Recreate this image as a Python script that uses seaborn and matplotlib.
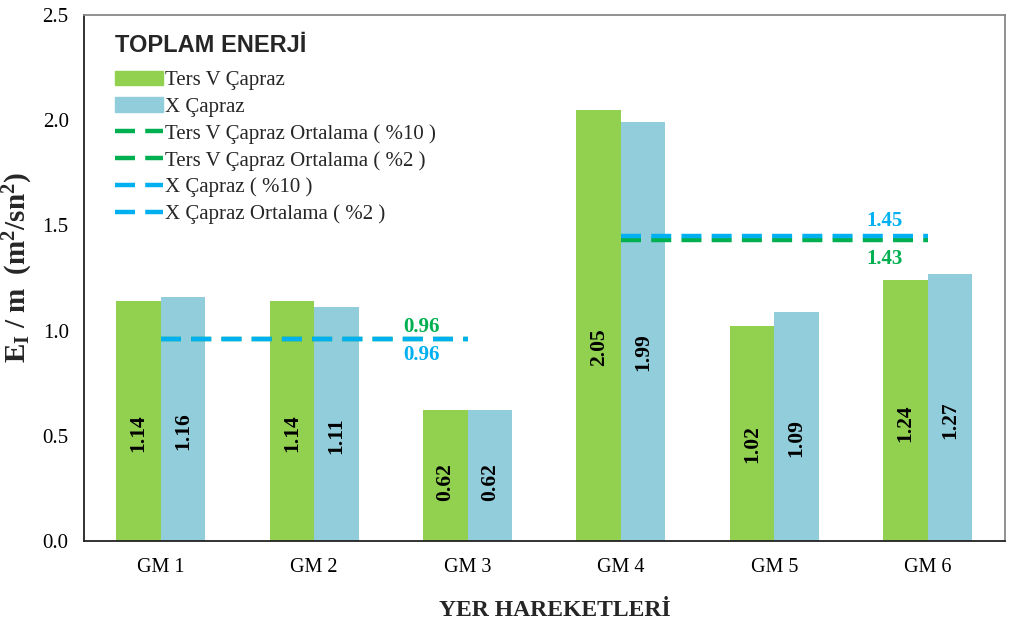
import numpy as np
import pandas as pd
import matplotlib
matplotlib.use("Agg")
import matplotlib.pyplot as plt
from matplotlib.lines import Line2D
from matplotlib.patches import Patch
import seaborn as sns

# -------------------------------
# Datos
# -------------------------------
gm_labels = ["GM 1", "GM 2", "GM 3", "GM 4", "GM 5", "GM 6"]
ters_v = [1.14, 1.14, 0.62, 2.05, 1.02, 1.24]
x_capraz = [1.16, 1.11, 0.62, 1.99, 1.09, 1.27]

# ortalamas: %10 grubu (GM1-GM3), %2 grubu (GM4-GM6)
ters_v_ort10 = 0.96
ters_v_ort2 = 1.43
x_ort10 = 0.96
x_ort2 = 1.45

series_names = ["Ters V Çapraz", "X Çapraz"]
line_names = ["Ters V Çapraz Ortalama ( %10 )", "Ters V Çapraz Ortalama ( %2 )",
              "X Çapraz ( %10 )", "X Çapraz Ortalama ( %2 )"]

c_green_bar = "#92D050"
c_blue_bar = "#92CDDC"
c_green_line = "#00B050"
c_blue_line = "#00B0F0"

sns.set_theme(style="white")
plt.rcParams["font.family"] = ["Liberation Serif", "DejaVu Serif"]
plt.rcParams["mathtext.fontset"] = "custom"
plt.rcParams["mathtext.rm"] = "Liberation Serif"
plt.rcParams["mathtext.bf"] = "Liberation Serif:bold"
plt.rcParams["mathtext.it"] = "Liberation Serif:italic"

df = pd.DataFrame({
    "gm": gm_labels * 2,
    "valor": ters_v + x_capraz,
    "tipo": [series_names[0]] * 6 + [series_names[1]] * 6,
})

fig = plt.figure(figsize=(10.24, 6.26), dpi=100)
ax = fig.add_axes([0.082, 0.136, 0.899, 0.840])

sns.barplot(data=df, x="gm", y="valor", hue="tipo", order=gm_labels,
            hue_order=series_names, palette=[c_green_bar, c_blue_bar],
            width=0.58, saturation=1, ax=ax, legend=False, errorbar=None,
            linewidth=0)

# valores dentro de las barras
for cont in ax.containers:
    for rect in cont:
        h = rect.get_height()
        ax.text(rect.get_x() + rect.get_width() / 2, h * 0.45, f"{h:.2f}",
                rotation=90, ha="center", va="center", fontsize=15.5,
                fontweight="bold", color="black")

# líneas de promedio
dash = (4.5, 2.3)
ax.plot([0, 2], [ters_v_ort10] * 2, color=c_green_line, lw=3.2, dashes=dash)
ax.plot([3, 5], [ters_v_ort2] * 2, color=c_green_line, lw=3.2, dashes=dash)
ax.plot([0, 2], [x_ort10] * 2, color=c_blue_line, lw=3.2, dashes=dash)
ax.plot([3, 5], [x_ort2] * 2, color=c_blue_line, lw=3.2, dashes=dash)

ax.text(1.7, ters_v_ort10 + 0.055, f"{ters_v_ort10:.2f}", color=c_green_line,
        fontsize=15, fontweight="bold", ha="center", va="center")
ax.text(1.7, x_ort10 - 0.075, f"{x_ort10:.2f}", color=c_blue_line,
        fontsize=15, fontweight="bold", ha="center", va="center")
ax.text(4.72, x_ort2 + 0.07, f"{x_ort2:.2f}", color=c_blue_line,
        fontsize=15, fontweight="bold", ha="center", va="center")
ax.text(4.72, ters_v_ort2 - 0.09, f"{ters_v_ort2:.2f}", color=c_green_line,
        fontsize=15, fontweight="bold", ha="center", va="center")

# ejes
ax.set_xlim(-0.5, 5.5)
ax.set_ylim(0, 2.5)
ax.set_yticks(np.arange(0, 2.51, 0.5))
ax.set_yticklabels([f"{v:.1f}" for v in np.arange(0, 2.51, 0.5)], fontsize=15)
ax.set_xticks(range(6))
ax.set_xticklabels(gm_labels, fontsize=14.5)
ax.set_xticks(np.arange(-0.5, 5.6, 1), minor=True)
ax.tick_params(axis="x", which="major", length=0, pad=12)
ax.tick_params(axis="x", which="minor", length=6, direction="out", width=1, color="#333333")
ax.tick_params(axis="y", length=5, direction="out", width=1, color="#333333", pad=6)
ax.tick_params(axis="both", labelcolor="black")

ax.set_xlabel("YER HAREKETLERİ", fontsize=17, fontweight="bold")
ax.xaxis.set_label_coords(0.511, -0.112)
ax.set_ylabel(r"$\mathbf{E_I\ /\ m\ \ (m^2/sn^2)}$", fontsize=21)
ax.yaxis.set_label_coords(-0.053, 0.52)

for side in ["left", "bottom"]:
    ax.spines[side].set_color("#222222")
    ax.spines[side].set_linewidth(1.3)
for side in ["top", "right"]:
    ax.spines[side].set_color("#888888")
    ax.spines[side].set_linewidth(1.3)

# leyenda
handles = [
    Patch(color=c_green_bar),
    Patch(color=c_blue_bar),
    Line2D([], [], color=c_green_line, lw=3.2, dashes=dash),
    Line2D([], [], color=c_green_line, lw=3.2, dashes=dash),
    Line2D([], [], color=c_blue_line, lw=3.2, dashes=dash),
    Line2D([], [], color=c_blue_line, lw=3.2, dashes=dash),
]
leg = ax.legend(handles, series_names + line_names, loc="upper left",
                bbox_to_anchor=(0.02, 0.988), frameon=False, fontsize=15,
                title="TOPLAM ENERJİ", handlelength=2.3, handletextpad=0.1,
                labelspacing=0.34, borderaxespad=0.2)
leg.get_title().set_fontfamily(["Liberation Sans", "DejaVu Sans"])
leg.get_title().set_fontweight("bold")
leg.get_title().set_fontsize(17)
leg._legend_box.align = "left"
leg._legend_box.sep = 10

fig.savefig("out.png", dpi=100)
